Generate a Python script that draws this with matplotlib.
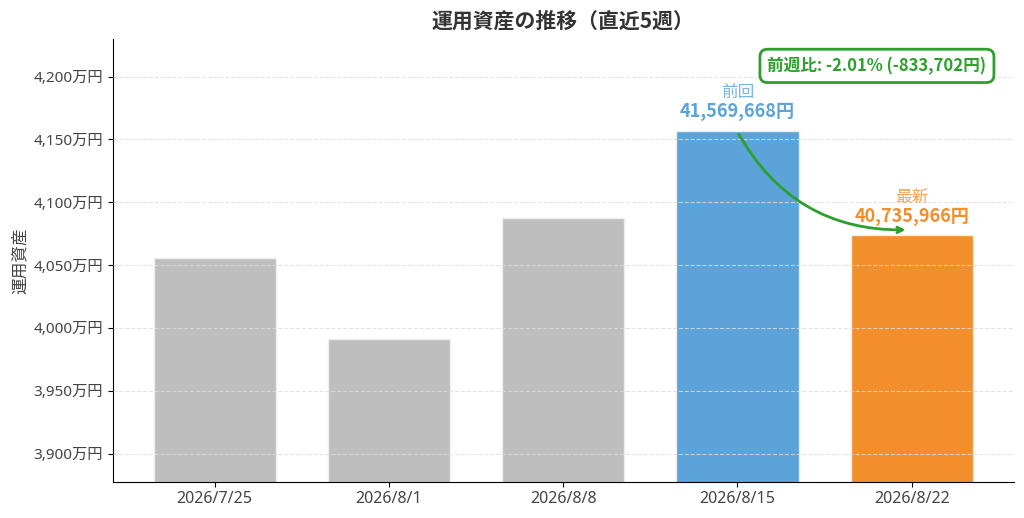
import matplotlib.pyplot as plt
from matplotlib.ticker import FuncFormatter
import numpy as np

plt.rcParams['font.family'] = ['Noto Sans', 'Noto Sans CJK JP', 'DejaVu Sans']
bold_font = ['Noto Sans CJK JP', 'DejaVu Sans']

# Data (yen)
dates = ['2026/7/25', '2026/8/1', '2026/8/8', '2026/8/15', '2026/8/22']
values = [40560000, 39915000, 40878000, 41569668, 40735966]
colors = ['#bebebe', '#bebebe', '#bebebe', '#5ba3d9', '#f28e2b']

prev_val = values[-2]
last_val = values[-1]
diff = last_val - prev_val
pct = diff / prev_val * 100

fig, ax = plt.subplots(figsize=(10.24, 5.18), dpi=100)

x = np.arange(len(dates))
ax.bar(x, values, width=0.7, color=colors, edgecolor='#eeeeee', linewidth=1, zorder=2)

ax.set_xticks(x)
ax.set_xticklabels(dates, fontsize=11.5, color='#444444')
ax.yaxis.set_major_formatter(FuncFormatter(lambda v, p: f'{v/1e4:,.0f}万円'))
ax.set_ylim(38777000, 42300000)
ax.tick_params(axis='y', labelsize=11, labelcolor='#444444')
ax.set_ylabel('運用資産', fontsize=12, color='#444444', labelpad=3)

ax.grid(axis='y', linestyle='--', color='#dddddd', alpha=0.8, zorder=3)
ax.set_axisbelow(False)
for s in ['top', 'right']:
    ax.spines[s].set_visible(False)

ax.set_title('運用資産の推移（直近5週）', fontsize=15, weight='bold', color='#333333', pad=8,
             family=bold_font)

# value labels on the last two bars
ax.text(x[-2], prev_val + 235000, '前回', ha='center', va='bottom', fontsize=12, color='#5ba3d9', alpha=0.8)
ax.text(x[-2], prev_val + 75000, f'{prev_val:,}円', ha='center', va='bottom', fontsize=13,
        weight='bold', color='#5ba3d9', family=bold_font)
ax.text(x[-1], last_val + 235000, '最新', ha='center', va='bottom', fontsize=12, color='#f28e2b', alpha=0.8)
ax.text(x[-1], last_val + 75000, f'{last_val:,}円', ha='center', va='bottom', fontsize=13,
        weight='bold', color='#f28e2b', family=bold_font)

# curved arrow prev -> latest
ax.annotate('', xy=(x[-1] - 0.02, last_val + 45000), xytext=(x[-2], prev_val - 10000),
            arrowprops=dict(arrowstyle='->', lw=2, color='#2ca02c',
                            connectionstyle='arc3,rad=0.3'), zorder=5)

ax.text(x[-1] - 0.2, 42085000, f'前週比: {pct:+.2f}% ({diff:+,}円)', ha='center', va='center',
        fontsize=12, weight='bold', color='#2ca02c', family=bold_font,
        bbox=dict(boxstyle='round,pad=0.45', facecolor='white', edgecolor='#2ca02c', linewidth=2))

plt.subplots_adjust(left=0.11, right=0.99, top=0.925, bottom=0.07)
plt.savefig('out.png', dpi=100)
